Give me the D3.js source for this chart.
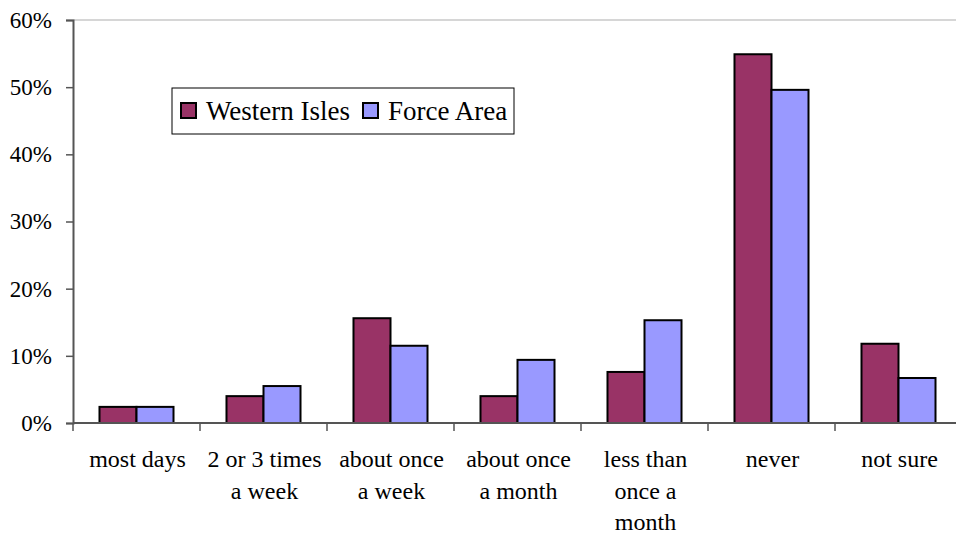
<!DOCTYPE html>
<html>
<head>
<meta charset="utf-8">
<script src="https://cdn.jsdelivr.net/npm/d3@7"></script>
<style>
  body { margin: 0; background: #fff; }
  text { font-family: "Liberation Serif", "Times New Roman", serif; fill: #000; }
</style>
</head>
<body>
<div id="chart"></div>
<script>
// data
var categories = [["most days"], ["2 or 3 times", "a week"], ["about once", "a week"],
  ["about once", "a month"], ["less than", "once a", "month"], ["never"], ["not sure"]];
var seriesNames = ["Western Isles", "Force Area"];
var westernIsles = [2.4, 4.0, 15.6, 4.0, 7.6, 54.9, 11.8];
var forceArea = [2.4, 5.5, 11.5, 9.4, 15.3, 49.6, 6.7];
var yTicks = [0, 10, 20, 30, 40, 50, 60];
var colors = ["#993366", "#9999FF"];

var width = 956, height = 533;
var m = { left: 73, right: 962, top: 20, bottom: 423 };

var svg = d3.select("#chart").append("svg")
  .attr("width", width).attr("height", height);

var x0 = d3.scaleBand().domain(d3.range(categories.length)).range([m.left, m.right]);
var x1 = d3.scaleBand().domain([0, 1]).range([0, x0.bandwidth()]).paddingOuter(0.716);
var y = d3.scaleLinear().domain([0, 60]).range([m.bottom, m.top]);

// top border of plot
svg.append("line")
  .attr("x1", m.left).attr("x2", m.right).attr("y1", y(60)).attr("y2", y(60))
  .attr("stroke", "#c8c8c8").attr("stroke-width", 1.5);

var values = [westernIsles, forceArea];
var groups = svg.selectAll(".cat")
  .data(categories)
  .enter().append("g")
  .attr("class", "cat")
  .attr("transform", function(d, i){ return "translate(" + x0(i) + ",0)"; });

groups.selectAll("rect")
  .data(function(d, i){ return [0, 1].map(function(s){ return {s: s, v: values[s][i]}; }); })
  .enter().append("rect")
  .attr("x", function(d){ return x1(d.s); })
  .attr("width", x1.bandwidth())
  .attr("y", function(d){ return y(d.v); })
  .attr("height", function(d){ return y(0) - y(d.v); })
  .attr("fill", function(d){ return colors[d.s]; })
  .attr("stroke", "#000").attr("stroke-width", 2);

// y axis
var yAxis = svg.append("g")
  .attr("transform", "translate(" + m.left + ",0)")
  .call(d3.axisLeft(y).tickValues(yTicks).tickSize(7).tickFormat(function(d){ return d + "%"; }));
yAxis.select(".domain").attr("stroke", "#555").attr("stroke-width", 2);
yAxis.selectAll(".tick line").attr("stroke", "#555").attr("stroke-width", 1.5);
yAxis.selectAll(".tick text")
  .attr("x", -21)
  .style("font-family", "Liberation Serif").style("font-size", "23px").attr("fill", "#000");

// x axis line + boundary ticks
svg.append("line")
  .attr("x1", m.left).attr("x2", m.right).attr("y1", m.bottom).attr("y2", m.bottom)
  .attr("stroke", "#555").attr("stroke-width", 2);
svg.selectAll(".xtick")
  .data(d3.range(categories.length + 1))
  .enter().append("line")
  .attr("class", "xtick")
  .attr("x1", function(i){ return m.left + i * x0.step(); })
  .attr("x2", function(i){ return m.left + i * x0.step(); })
  .attr("y1", m.bottom).attr("y2", m.bottom + 8)
  .attr("stroke", "#555").attr("stroke-width", 1.5);

// category labels
var labels = svg.selectAll(".xlabel")
  .data(categories)
  .enter().append("text")
  .attr("class", "xlabel")
  .attr("text-anchor", "middle")
  .style("font-size", "24px");
labels.selectAll("tspan")
  .data(function(d, i){ return d.map(function(t){ return {t: t, i: i}; }); })
  .enter().append("tspan")
  .attr("x", function(d){ return x0(d.i) + x0.bandwidth() / 2 + 1; })
  .attr("y", function(d, j){ return 467 + j * 31.5; })
  .text(function(d){ return d.t; });

// legend
var legend = svg.append("g").attr("transform", "translate(172,88)");
legend.append("rect")
  .attr("width", 342).attr("height", 46)
  .attr("fill", "#fff").attr("stroke", "#000").attr("stroke-width", 1);
var legendX = [9, 191];
var items = legend.selectAll(".item")
  .data(seriesNames)
  .enter().append("g")
  .attr("class", "item")
  .attr("transform", function(d, i){ return "translate(" + legendX[i] + ",0)"; });
items.append("rect")
  .attr("y", 15).attr("width", 15).attr("height", 15)
  .attr("fill", function(d, i){ return colors[i]; })
  .attr("stroke", "#000").attr("stroke-width", 2);
items.append("text")
  .attr("x", 25).attr("y", 32)
  .style("font-size", "27px")
  .text(function(d){ return d; });
</script>
</body>
</html>
